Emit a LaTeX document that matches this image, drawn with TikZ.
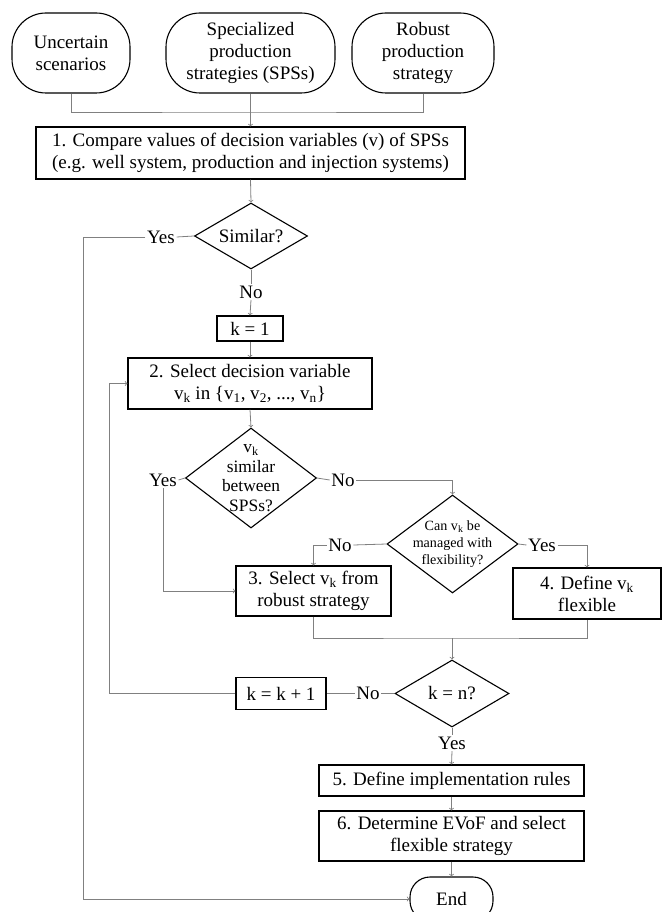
\documentclass[tikz,border=0pt]{standalone}
\usepackage{fontspec}
\setmainfont{Liberation Serif}
\usetikzlibrary{shapes.geometric}

\begin{document}
\begin{tikzpicture}[x=1pt,y=-1pt,
  box/.style={draw,line width=1.1pt,inner sep=0pt,align=center,font=\fontsize{19}{22}\selectfont},
  term/.style={box,rounded corners=34pt},
  decide/.style={draw,diamond,line width=1.1pt,inner sep=0pt},
  ans/.style={inner sep=1.5pt,font=\fontsize{19}{22}\selectfont},
  link/.style={gray,line width=0.8pt}]

\useasboundingbox (0,0) rectangle (663,912);

\def\vk{v\textsubscript{k}}

\coordinate (lft) at (83,0);
\coordinate (lp) at (109,0);
\coordinate (jn) at (251,112);
\coordinate (jn2) at (452,638);

\node[term,minimum width=118pt,minimum height=80pt] (unc) at (71,53) {Uncertain\\scenarios};
\node[term,minimum width=169pt,minimum height=80pt] (sps) at (250.5,53) {Specialized\\production\\strategies (SPSs)};
\node[term,minimum width=142pt,minimum height=80pt] (rob) at (423,53) {Robust\\production\\strategy};

\node[box,minimum width=429pt,minimum height=52pt] (cmp) at (250.5,153)
  {1. Compare values of decision variables (v) of SPSs\\(e.g. well system, production and injection systems)};

\node[decide,minimum width=113pt,minimum height=66pt,
  label={[font=\fontsize{19}{22}\selectfont]center:Similar?}] (sim) at (251,236) {};
\node[ans] (yes1) at (161,237) {Yes};
\node[ans] (no1) at (251,292) {No};

\node[box,minimum width=66pt,minimum height=25pt] (k1) at (250,328.5) {k = 1};
\node[box,minimum width=244pt,minimum height=51pt] (sel) at (250,383.5)
  {2. Select decision variable\\\vk{} in \{v\textsubscript{1}, v\textsubscript{2}, ..., v\textsubscript{n}\}};

\node[decide,minimum width=131pt,minimum height=100pt,
  label={[align=center,font=\fontsize{17.4}{19.5}\selectfont]center:\vk\\similar\\between\\SPSs?}] (vsim) at (251,478) {};
\node[ans] (yes2) at (163,480) {Yes};
\node[ans] (no2) at (343,480) {No};

\node[decide,minimum width=131pt,minimum height=98pt,
  label={[align=center,font=\fontsize{14.1}{16.8}\selectfont]center:Can \vk{} be\\managed with\\flexibility?}] (can) at (452.5,544) {};
\node[ans] (no3) at (340,545) {No};
\node[ans] (yes3) at (542,545) {Yes};

\node[box,minimum width=155pt,minimum height=50pt] (rbst) at (313.5,591) {3. Select \vk{} from\\robust strategy};
\node[box,minimum width=148pt,minimum height=51pt] (flex) at (587,593.5) {4. Define \vk\\flexible};

\node[decide,minimum width=114pt,minimum height=67pt,
  label={[font=\fontsize{19}{22}\selectfont]center:k = n?}] (kn) at (452,693.5) {};
\node[ans] (no4) at (368,693.5) {No};
\node[box,minimum width=90pt,minimum height=32pt] (kinc) at (281,693.5) {k = k + 1};
\node[ans] (yes4) at (452,743) {Yes};

\node[box,minimum width=265pt,minimum height=31pt] (rules) at (451.5,780.5) {5. Define implementation rules};
\node[box,minimum width=265pt,minimum height=50pt] (evof) at (451.5,836) {6. Determine EVoF and select\\flexible strategy};
\node[term,rounded corners=20pt,minimum width=83pt,minimum height=44pt] (end) at (451.5,899) {End};

\draw[link] (unc.south) |- (jn) -| (rob.south);
\draw[link,->] (sps.south) -- (cmp.north);
\draw[link,->] (cmp.south) -- (sim.north);

\draw[link] (sim.west) -- (yes1.east);
\draw[link,->] (yes1.west) -| (lft |- end.west) -- (end.west);
\draw[link] (sim.south) -- (no1.north);
\draw[link,->] (no1.south) -- (k1.north);
\draw[link,->] (k1.south) -- (sel.north);
\draw[link,->] (sel.south) -- (vsim.north);

\draw[link] (vsim.west) -- (yes2.east);
\draw[link,->] (yes2.south) |- (rbst.west);
\draw[link] (vsim.east) -- (no2.west);
\draw[link,->] (no2.east) -| (can.north);

\draw[link] (can.west) -- (no3.east);
\draw[link,->] (no3.west) -| (rbst.north);
\draw[link] (can.east) -- (yes3.west);
\draw[link,->] (yes3.east) -| (flex.north);

\draw[link] (rbst.south) |- (jn2) -| (flex.south);
\draw[link,->] (jn2) -- (kn.north);

\draw[link] (kn.west) -- (no4.east);
\draw[link] (no4.west) -- (kinc.east);
\draw[link,->] (kinc.west) -- (kinc.west -| lp) |- (sel.west);

\draw[link] (kn.south) -- (yes4.north);
\draw[link,->] (yes4.south) -- (rules.north);
\draw[link,->] (rules.south) -- (evof.north);
\draw[link,->] (evof.south) -- (end.north);

\end{tikzpicture}
\end{document}
